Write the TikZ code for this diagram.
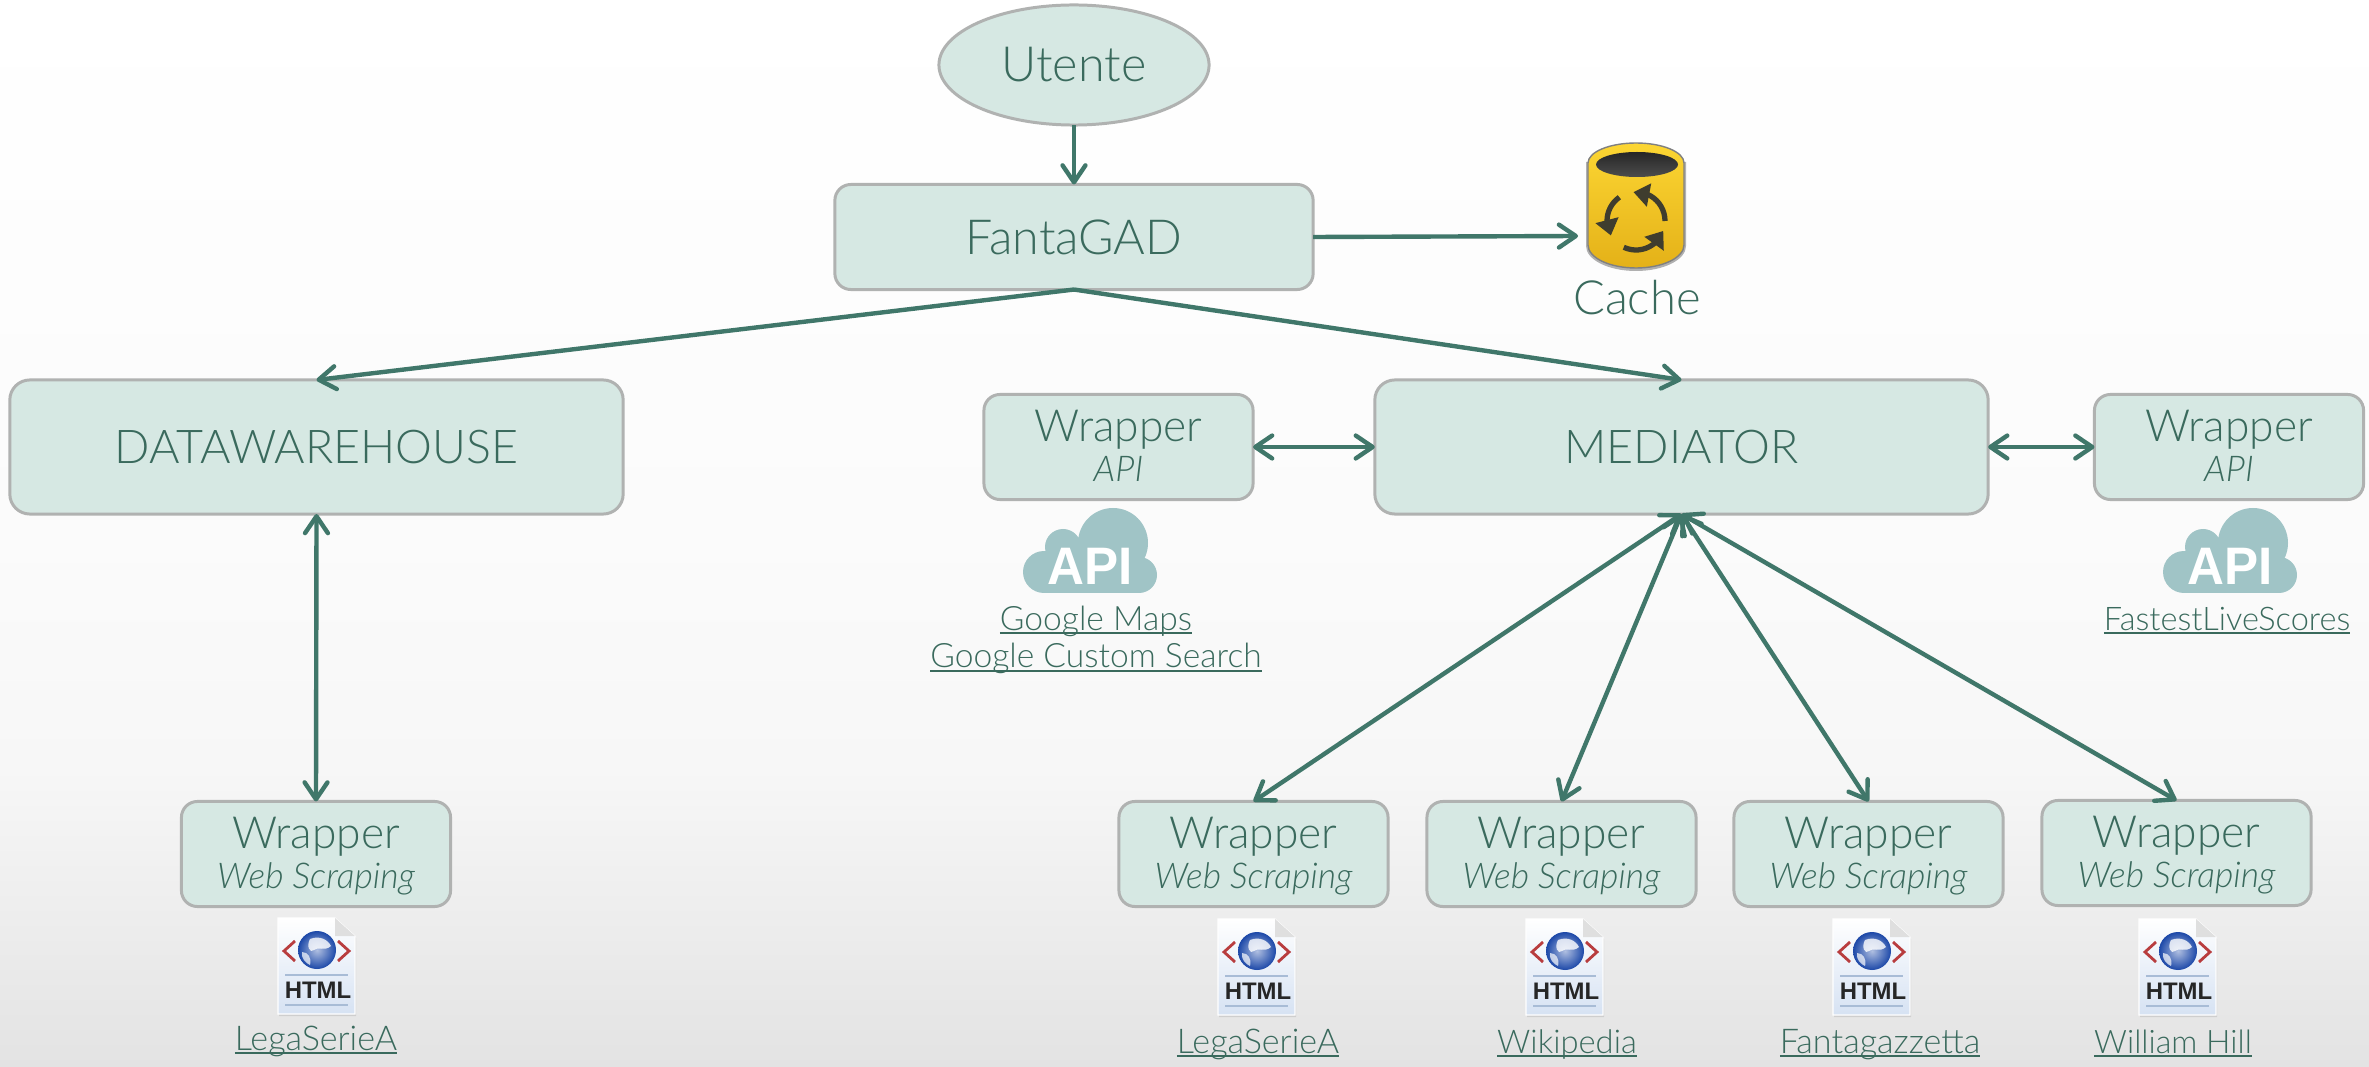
\documentclass[tikz,border=0pt]{standalone}
\usepackage{fontspec}
\setmainfont{Lato}[UprightFont={* Light},ItalicFont={* Light Italic},BoldFont={* Bold}]
\newfontfamily\iconfont{Liberation Sans}[Scale=1]
\usetikzlibrary{arrows.meta,bending,shapes.geometric}
\definecolor{txtc}{HTML}{3A6A5D}
\definecolor{arrc}{HTML}{40776A}
\definecolor{boxf}{HTML}{D6E8E3}
\definecolor{boxl}{HTML}{B0B2B1}
\definecolor{cloudc}{HTML}{A0C4C6}
\definecolor{bgA}{HTML}{E3E3E3}
\definecolor{bgB}{HTML}{F7F7F7}
\definecolor{bgC}{HTML}{FBFBFB}
\definecolor{pagec}{HTML}{D6E2F3}
\definecolor{rulec}{HTML}{A8BCD6}
\definecolor{goldA}{HTML}{FCD633}
\definecolor{goldB}{HTML}{E4B118}
\definecolor{glb}{HTML}{1C48A8}
\definecolor{cycc}{HTML}{3F3D2E}
\pgfdeclareverticalshading{bgshade}{100bp}{color(0bp)=(bgA); color(25bp)=(bgA); color(39bp)=(bgB); color(50bp)=(bgC); color(75bp)=(white); color(100bp)=(white)}
\newcommand{\ulnk}[1]{\sbox0{#1}\rlap{\rule[-1.1pt]{\wd0}{0.6pt}}\box0}
\newcommand{\subt}[1]{{\fontsize{10.1}{11}\selectfont\itshape\rule[-2.2pt]{0pt}{2.2pt}#1}}
\newcommand{\wtop}{\rule{0pt}{10.6pt}}
\tikzset{
  x=0.01cm,y=-0.01cm,
  boxbase/.style={draw=boxl,fill=boxf,line width=0.85pt,inner sep=0pt,outer sep=0pt,text=txtc,align=center},
  bigbox/.style={boxbase,rectangle,rounded corners=0.2cm,minimum width=6.13cm,minimum height=1.34cm,font=\fontsize{13.25}{18}\selectfont},
  midbox/.style={boxbase,rectangle,rounded corners=0.16cm,minimum width=4.78cm,minimum height=1.05cm,font=\fontsize{13.75}{18}\selectfont},
  wrapbox/.style={boxbase,rectangle,rounded corners=0.16cm,minimum width=2.69cm,minimum height=1.05cm,font=\fontsize{12.6}{11.4}\selectfont},
  ellbox/.style={boxbase,ellipse,minimum width=2.7cm,minimum height=1.2cm,font=\fontsize{13.8}{18}\selectfont},
  linktext/.style={anchor=base,inner sep=0pt,text=txtc,font=\fontsize{#1}{12}\selectfont},
  capt/.style={anchor=base,inner sep=0pt,text=txtc,font=\fontsize{13.4}{18}\selectfont},
  conn/.style={draw=arrc,line width=1.25pt,{Straight Barb[length=4.8pt,width=6.5pt,round]}-{Straight Barb[length=4.8pt,width=6.5pt,round]}},
  conr/.style={draw=arrc,line width=1.25pt,-{Straight Barb[length=4.8pt,width=6.5pt,round]}},
  apicloud/.pic={
    \fill[cloudc] (-46,21) circle (21) (23,-8) circle (35) (-27,-4) circle (18) (49,24) circle (18);
    \fill[cloudc] (-46,4) rectangle (49,42);
    \fill[cloudc] (-27,-4) rectangle (30,30);
    \node[inner sep=0pt,anchor=base,text=white] at (0,34) {\iconfont\bfseries\fontsize{15}{15}\selectfont\scalebox{.97}[1]{API}};
  },
  htmlicon/.pic={
    \fill[black,opacity=.1] (-37,-46) -- (20,-46) -- (40,-28) -- (40,50) -- (-37,50) -- cycle;
    \shade[top color=white,bottom color=pagec,draw=white,line width=.3pt] (-38,-48) -- (19,-48) -- (39,-30) -- (39,48) -- (-38,48) -- cycle;
    \fill[gray!25] (19,-48) -- (19,-30) -- (39,-30) -- cycle;
    \shade[inner color=glb!35!white,outer color=glb] (1,-16) circle (19);
    \fill[white,opacity=.8] (-6,-27) .. controls (4,-31) and (12,-26) .. (15,-20) .. controls (8,-14) and (2,-20) .. (-2,-16) .. controls (-6,-12) and (-10,-20) .. cycle;
    \fill[white,opacity=.7] (-14,-14) .. controls (-8,-14) and (-4,-8) .. (-6,-1) .. controls (-10,-3) and (-15,-7) .. cycle;
    \draw[red!65!black,line width=.8pt,opacity=.75] (-21,-25) -- (-32,-15) -- (-21,-5) (22,-25) -- (33,-15) -- (22,-5);
    \draw[rulec,line width=.5pt] (-31,9) -- (32,9) (-31,39) -- (32,39);
    \node[inner sep=0pt,anchor=base,text=black!85] at (2,32) {\iconfont\bfseries\fontsize{6.8}{7}\selectfont HTML};
  }
}
\begin{document}
\begin{tikzpicture}
\useasboundingbox (0,0) rectangle (2369,1067);
\shade[shading=bgshade] (0,0) rectangle (2369,1067);

% nodes
\node[ellbox] (utente) at (1074,65) {Utente};
\node[midbox] (fanta) at (1074,237) {FantaGAD};
\node[bigbox] (dw) at (316.5,447) {DATAWAREHOUSE};
\node[bigbox] (med) at (1681.5,447) {MEDIATOR};
\node[wrapbox] (apiL) at (1118.5,447) {\wtop Wrapper\\\subt{API}};
\node[wrapbox] (apiR) at (2229,447) {\wtop Wrapper\\\subt{API}};
\node[wrapbox] (wsA) at (316,854) {\wtop Wrapper\\\subt{Web Scraping}};
\node[wrapbox] (wsB) at (1253.5,854) {\wtop Wrapper\\\subt{Web Scraping}};
\node[wrapbox] (wsC) at (1561.5,854) {\wtop Wrapper\\\subt{Web Scraping}};
\node[wrapbox] (wsD) at (1868.5,854) {\wtop Wrapper\\\subt{Web Scraping}};
\node[wrapbox] (wsE) at (2176.5,853) {\wtop Wrapper\\\subt{Web Scraping}};

% cache cylinder
\fill[black,opacity=.3] (1586,162) -- (1586,246) arc[start angle=180,end angle=0,x radius=50,y radius=25] -- (1686,162) -- cycle;
\shade[top color=goldA,bottom color=goldB,draw=black!50,line width=.4pt]
  (1588,163) -- (1588,245) arc[start angle=180,end angle=0,x radius=48,y radius=23] -- (1684,163) arc[start angle=0,end angle=-180,x radius=48,y radius=20] -- cycle;
\shade[top color=black!85,bottom color=black!70] (1637,164.5) ellipse[x radius=41,y radius=12.5];
\coordinate (cc) at (1636,221);
\begin{scope}[draw=cycc,line width=1.5pt,-{Triangle[length=4.5pt,width=6.5pt,flex=1]}]
\draw (cc) ++(0:29) arc[start angle=0,end angle=-95,radius=29];
\draw (cc) ++(-125:29) arc[start angle=-125,end angle=-210,radius=29];
\draw (cc) ++(-245:29) arc[start angle=-245,end angle=-340,radius=29];
\end{scope}
\coordinate (cachein) at (1578,236);
\node[capt] (cache) at (1637,315) {Cache};

% icons
\pic at (1090,551) {apicloud};
\pic at (2230,551) {apicloud};
\pic at (316,966) {htmlicon};
\pic at (1256,967) {htmlicon};
\pic at (1564,967) {htmlicon};
\pic at (1871,967) {htmlicon};
\pic at (2177,967) {htmlicon};

% link labels
\node[linktext=9.55] (gmaps) at (1096,630) {\ulnk{Google Maps}};
\node[linktext=9.55] (gsearch) at (1096,668) {\ulnk{Google Custom Search}};
\node[linktext=9.25] (fast) at (2227,630) {\ulnk{FastestLiveScores}};
\node[linktext=9.7] (lsA) at (316,1050) {\ulnk{LegaSerieA}};
\node[linktext=9.7] (lsB) at (1258,1053) {\ulnk{LegaSerieA}};
\node[linktext=9.3] (wiki) at (1567,1053) {\ulnk{Wikipedia}};
\node[linktext=9.7] (fgz) at (1880,1053) {\ulnk{Fantagazzetta}};
\node[linktext=9.2] (will) at (2173,1053) {\ulnk{William Hill}};

% connectors
\draw[conr] (utente) -- (fanta);
\draw[conr] (fanta.east) -- (cachein);
\draw[conr] (fanta.south) -- (dw.north);
\draw[conr] (fanta.south) -- (med.north);
\draw[conn] (dw.south) -- (wsA.north);
\draw[conn] (apiL.east) -- (med.west);
\draw[conn] (med.east) -- (apiR.west);
\draw[conn] (med.south) -- (wsB.north);
\draw[conn] (med.south) -- (wsC.north);
\draw[conn] (med.south) -- (wsD.north);
\draw[conn] (med.south) -- (wsE.north);
\end{tikzpicture}
\end{document}
